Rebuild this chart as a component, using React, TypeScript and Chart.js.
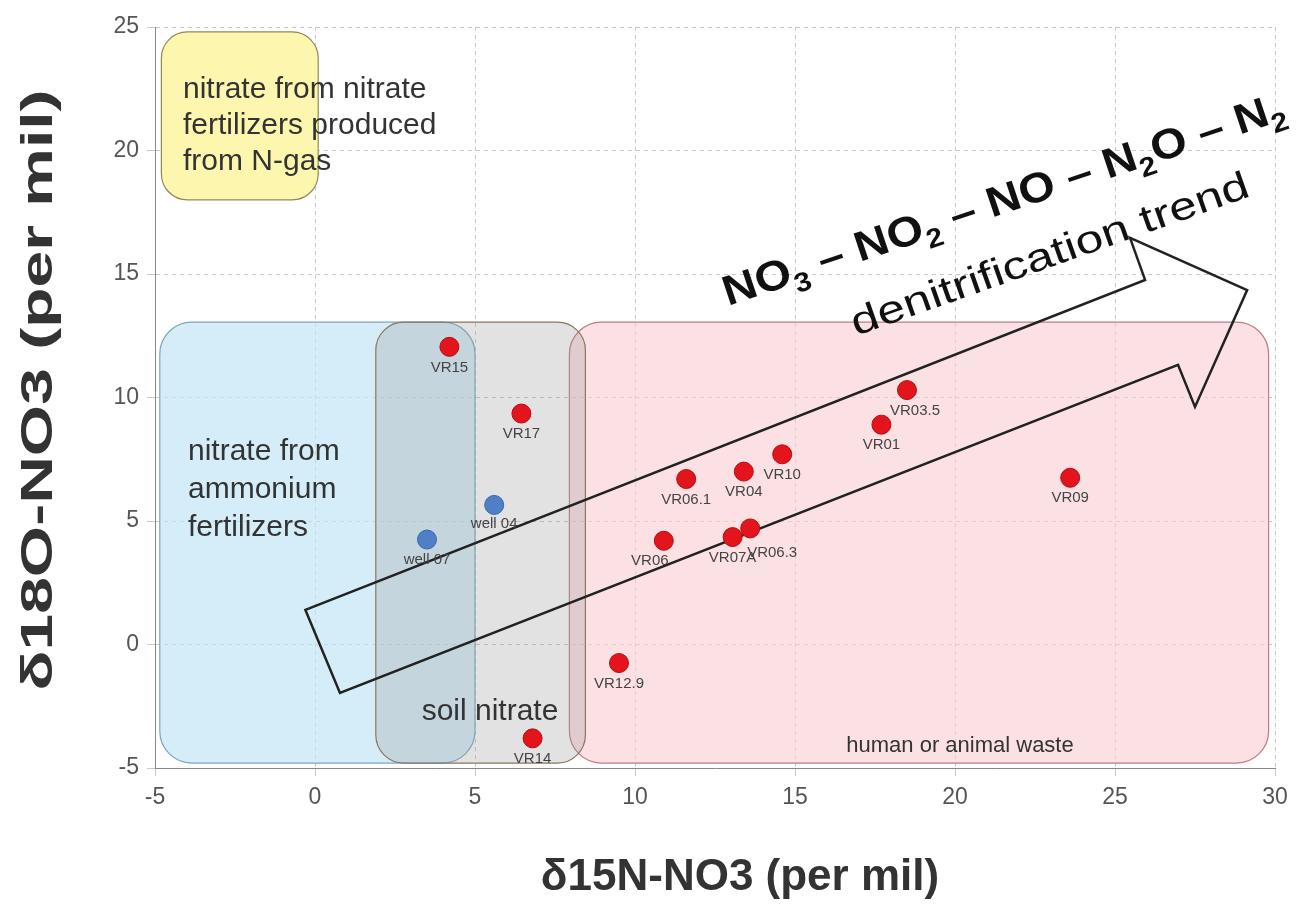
import React, { useEffect, useRef } from "react";
import { Chart, registerables } from "chart.js";
Chart.register(...registerables);

const redNames = ["VR15","VR17","VR06.1","VR04","VR10","VR01","VR03.5","VR09","VR06","VR07A","VR06.3","VR12.9","VR14"];
const redX = [4.2,6.45,11.6,13.4,14.6,17.7,18.5,23.6,10.9,13.05,13.6,9.5,6.8];
const redY = [12.05,9.35,6.7,7.0,7.7,8.9,10.3,6.75,4.2,4.35,4.7,-0.75,-3.8];
const blueNames = ["well 04","well 07"];
const blueX = [5.6,3.5];
const blueY = [5.65,4.25];
const xTicks = [-5,0,5,10,15,20,25,30];
const yTicks = [-5,0,5,10,15,20,25];
// regions: [x0,x1,y0,y1]
const regionYellow = [-4.8, 0.1, 18.0, 24.8];
const regionBlue = [-4.85, 5.0, -4.8, 13.05];
const regionGrey = [1.9, 8.45, -4.8, 13.05];
const regionPink = [7.95, 29.8, -4.8, 13.05];
const arrowX = [-0.3, 25.94, 25.47, 29.13, 27.5, 26.97, 0.78];
const arrowY = [1.4, 14.76, 16.46, 14.35, 9.62, 11.32, -1.96];

const labelOffsets: Record<string, [number, number]> = {
  "VR03.5": [8, 0], "VR06.3": [22, 4], "VR06": [-14, 0], "well 04": [0, -2],
};

const FF = "'Liberation Sans', Arial, sans-serif";

export default function App() {
  const ref = useRef<HTMLCanvasElement>(null);
  useEffect(() => {
    const rr = (ctx: CanvasRenderingContext2D, x0: number, y0: number, x1: number, y1: number, r: number) => {
      ctx.beginPath();
      ctx.moveTo(x0 + r, y0);
      ctx.arcTo(x1, y0, x1, y1, r);
      ctx.arcTo(x1, y1, x0, y1, r);
      ctx.arcTo(x0, y1, x0, y0, r);
      ctx.arcTo(x0, y0, x1, y0, r);
      ctx.closePath();
    };
    const bg = {
      id: "bg",
      beforeDatasetsDraw(chart: any) {
        const { ctx, scales: { x, y } } = chart;
        const box = (b: number[], fill: string, stroke: string, r: number) => {
          rr(ctx, x.getPixelForValue(b[0]), y.getPixelForValue(b[3]), x.getPixelForValue(b[1]), y.getPixelForValue(b[2]), r);
          ctx.fillStyle = fill; ctx.fill();
          ctx.strokeStyle = stroke; ctx.lineWidth = 1.2; ctx.stroke();
        };
        ctx.save();
        box(regionYellow, "rgba(253,245,170,0.95)", "#8f8a55", 26);
        box(regionPink, "rgba(250,205,210,0.6)", "#c07a80", 32);
        box(regionBlue, "rgba(190,228,245,0.65)", "#7aa8c0", 32);
        box(regionGrey, "rgba(150,150,150,0.28)", "#8a7560", 28);
        ctx.fillStyle = "#333";
        ctx.font = `30px ${FF}`;
        ctx.textBaseline = "alphabetic";
        ctx.textAlign = "left";
        ["nitrate from nitrate", "fertilizers produced", "from N-gas"].forEach((t, i) => ctx.fillText(t, 183, 98 + i * 36));
        ["nitrate from", "ammonium", "fertilizers"].forEach((t, i) => ctx.fillText(t, 188, 460 + i * 38));
        ctx.textAlign = "center";
        ctx.fillText("soil nitrate", 490, 720);
        ctx.font = `22px ${FF}`;
        ctx.fillText("human or animal waste", 960, 752);
        ctx.beginPath();
        arrowX.forEach((v, i) => {
          const px = x.getPixelForValue(v), py = y.getPixelForValue(arrowY[i]);
          i ? ctx.lineTo(px, py) : ctx.moveTo(px, py);
        });
        ctx.closePath();
        ctx.strokeStyle = "#222"; ctx.lineWidth = 2.5; ctx.lineJoin = "miter"; ctx.stroke();
        const big = `bold 42px ${FF}`;
        const sub = `bold 27px ${FF}`;
        const parts: [string, boolean][] = [["NO", false], ["3", true], [" – NO", false], ["2", true], [" – NO – N", false], ["2", true], ["O – N", false], ["2", true]];
        let total = 0;
        parts.forEach(([t, s]) => { ctx.font = s ? sub : big; total += ctx.measureText(t).width; });
        ctx.save();
        ctx.translate(728, 306);
        ctx.rotate(-18.5 * Math.PI / 180);
        ctx.scale(590 / total, 1);
        ctx.textAlign = "left";
        let cx = 0;
        ctx.fillStyle = "#111";
        parts.forEach(([t, s]) => {
          ctx.font = s ? sub : big;
          ctx.fillText(t, cx, s ? 10 : 0);
          cx += ctx.measureText(t).width;
        });
        ctx.restore();
        ctx.save();
        ctx.font = `39px ${FF}`;
        const w = ctx.measureText("denitrification trend").width;
        ctx.translate(856, 336);
        ctx.rotate(-19.5 * Math.PI / 180);
        ctx.scale(420 / w, 1);
        ctx.fillStyle = "#111";
        ctx.textAlign = "left";
        ctx.fillText("denitrification trend", 0, 0);
        ctx.restore();
        ctx.restore();
      },
      afterDatasetsDraw(chart: any) {
        const { ctx } = chart;
        ctx.save();
        ctx.font = `15px ${FF}`;
        ctx.fillStyle = "#444";
        ctx.textAlign = "center";
        ctx.textBaseline = "top";
        chart.data.datasets.forEach((ds: any, di: number) => {
          const meta = chart.getDatasetMeta(di);
          meta.data.forEach((pt: any, i: number) => {
            const name = ds.names[i];
            const o = labelOffsets[name] || [0, 0];
            ctx.fillText(name, pt.x + o[0], pt.y + 13 + o[1]);
          });
        });
        ctx.restore();
      },
      afterDraw(chart: any) {
        const { ctx } = chart;
        ctx.save();
        ctx.font = `bold 44px ${FF}`;
        ctx.fillStyle = "#333";
        ctx.textAlign = "center";
        ctx.textBaseline = "middle";
        ctx.fillText("δ15N-NO3 (per mil)", 740, 878);
        ctx.translate(40, 390);
        ctx.rotate(-Math.PI / 2);
        ctx.scale(1.5, 1);
        ctx.fillText("δ18O-NO3 (per mil)", 0, 0);
        ctx.restore();
      },
    };
    const tickFont = { size: 23, family: FF };
    const chart = new Chart(ref.current!, {
      type: "scatter",
      data: {
        datasets: [
          { data: redX.map((v, i) => ({ x: v, y: redY[i] })), names: redNames, backgroundColor: "#e3141b", borderColor: "#b01010", borderWidth: 1, pointRadius: 9.5 } as any,
          { data: blueX.map((v, i) => ({ x: v, y: blueY[i] })), names: blueNames, backgroundColor: "#4f7fc4", borderColor: "#3a66a8", borderWidth: 1, pointRadius: 9.5 } as any,
        ],
      },
      options: {
        animation: false,
        responsive: false,
        layout: { padding: { top: 27, right: 34, left: 0, bottom: 0 } },
        plugins: { legend: { display: false }, tooltip: { enabled: false } },
        scales: {
          x: {
            min: -5, max: 30,
            afterBuildTicks: (s: any) => { s.ticks = xTicks.map((v) => ({ value: v })); },
            afterFit: (s: any) => { s.height = 148; },
            ticks: { font: tickFont, color: "#555", padding: 8 },
            grid: { color: "#c8c8c8", tickLength: 8 },
            border: { color: "#888", dash: [4, 4] },
          },
          y: {
            min: -5, max: 25,
            afterBuildTicks: (s: any) => { s.ticks = yTicks.map((v) => ({ value: v })); },
            afterFit: (s: any) => { s.width = 155; },
            ticks: { font: tickFont, color: "#555", padding: 8 },
            grid: { color: "#c8c8c8", tickLength: 8 },
            border: { color: "#888", dash: [4, 4] },
          },
        },
      } as any,
      plugins: [bg],
    });
    return () => chart.destroy();
  }, []);
  return (
    <div style={{ position: "fixed", left: 0, top: 0, width: 1309, height: 916, background: "#fff" }}>
      <canvas ref={ref} width={1309} height={916} style={{ width: 1309, height: 916 }} />
    </div>
  );
}
